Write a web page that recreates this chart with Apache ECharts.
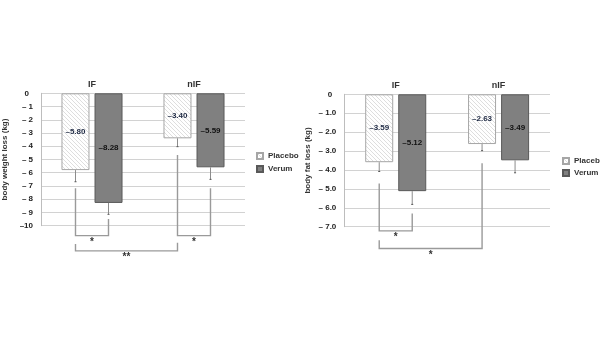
<!DOCTYPE html>
<html><head><meta charset="utf-8">
<script src="https://cdn.jsdelivr.net/npm/echarts@6/dist/echarts.min.js"></script>
<style>html,body{margin:0;padding:0;background:#fff}#c{width:600px;height:338px}</style>
</head><body><div id="c"></div>
<script>
// ---- data ----
const categories = ['IF', 'nIF'];
const seriesNames = ['Placebo', 'Verum'];
// body weight loss (kg)
const weightPlacebo = [-5.80, -3.40];
const weightVerum = [-8.28, -5.59];
const weightPlaceboErrEnd = [-6.68, -4.03];
const weightVerumErrEnd = [-9.14, -6.50];
// body fat loss (kg)
const fatPlacebo = [-3.59, -2.63];
const fatVerum = [-5.12, -3.49];
const fatPlaceboErrEnd = [-4.08, -2.98];
const fatVerumErrEnd = [-5.82, -4.15];
// significance brackets: [categoryIndex, seriesIndex]
const weightBracketFrom = [[0, 0], [1, 0], [0, 0]];
const weightBracketTo = [[0, 1], [1, 1], [1, 0]];
const weightBracketTops = [[-7.17, -9.49], [-4.66, -7.17], [-11.38, -11.28]];
const weightBracketBase = [-10.75, -10.75, -11.9];
const weightBracketMarks = ['*', '*', '**'];
const fatBracketFrom = [[0, 0], [0, 0]];
const fatBracketTo = [[0, 1], [1, 0]];
const fatBracketTops = [[-4.71, -6.30], [-7.71, -3.65]];
const fatBracketBase = [-7.22, -8.15];
const fatBracketMarks = ['*', '*'];

// ---- styles ----
const FONT = '"Liberation Sans", Arial, sans-serif';
const BAR_W = 28;
const BAR_SHIFT = 16.5; // half of bar width + gap
const offsets = [-BAR_SHIFT, BAR_SHIFT];

function hatch() {
  const c = document.createElement('canvas');
  c.width = 4; c.height = 4;
  const g = c.getContext('2d');
  g.fillStyle = '#ffffff'; g.fillRect(0, 0, 4, 4);
  g.strokeStyle = '#d6d6d6'; g.lineWidth = 0.8;
  g.beginPath();
  g.moveTo(-1, -1); g.lineTo(5, 5);
  g.moveTo(-1, 3); g.lineTo(1, 5);
  g.moveTo(3, -1); g.lineTo(5, 1);
  g.stroke();
  return c;
}
const placeboFill = { image: hatch(), repeat: 'repeat' };

const chart = echarts.init(document.getElementById('c'), null, { renderer: 'canvas' });

function fmtLabel(p) { return '\u2013' + Math.abs(p.value).toFixed(2); }

function barSeries(name, data, idx, fill, border, labelColor) {
  return {
    type: 'bar', name: name, xAxisIndex: idx, yAxisIndex: idx, data: data,
    barWidth: BAR_W, barGap: '18%',
    itemStyle: { color: fill, borderColor: border, borderWidth: 1 },
    label: { show: true, position: 'inside', formatter: fmtLabel, fontFamily: FONT,
      fontSize: 8, fontWeight: 'bold', color: labelColor },
    emphasis: { disabled: true }, z: 2
  };
}

function errSeries(vals, ends, idx, sIdx) {
  return {
    type: 'custom', xAxisIndex: idx, yAxisIndex: idx, silent: true, z: 3,
    data: vals.map((v, i) => [i, v, ends[i]]),
    encode: { x: 0, y: [1, 2] },
    renderItem: function (params, api) {
      const a = api.coord([api.value(0), api.value(1)]);
      const b = api.coord([api.value(0), api.value(2)]);
      const x = a[0] + offsets[sIdx];
      return { type: 'group', children: [
        { type: 'line', shape: { x1: x, y1: a[1], x2: x, y2: b[1] }, style: { stroke: '#8c8c8c', lineWidth: 1 } },
        { type: 'line', shape: { x1: x - 1, y1: b[1], x2: x + 1, y2: b[1] }, style: { stroke: '#555', lineWidth: 1 } }
      ] };
    }
  };
}

function bracketSeries(from, to, tops, base, marks, idx) {
  return {
    type: 'custom', xAxisIndex: idx, yAxisIndex: idx, silent: true, z: 4,
    data: base.map((b, i) => [from[i][0], b, i]),
    encode: { x: 0, y: 1 },
    renderItem: function (params, api) {
      const i = params.dataIndex;
      const pA = api.coord([from[i][0], tops[i][0]]);
      const pB = api.coord([to[i][0], tops[i][1]]);
      const yb = api.coord([from[i][0], base[i]])[1];
      const xA = pA[0] + offsets[from[i][1]];
      const xB = pB[0] + offsets[to[i][1]];
      return { type: 'group', children: [
        { type: 'polyline', shape: { points: [[xA, pA[1]], [xA, yb], [xB, yb], [xB, pB[1]]] },
          style: { stroke: '#9a9a9a', lineWidth: 1.4, fill: null } },
        { type: 'text', style: { text: marks[i], x: (xA + xB) / 2, y: yb + 1.5, align: 'center',
          verticalAlign: 'top', fontSize: 10, fontWeight: 'bold', fontFamily: FONT, fill: '#333' } }
      ] };
    }
  };
}

function yAxis(min, interval, fmt, name, gridIdx, gap) {
  return {
    type: 'value', gridIndex: gridIdx, min: min, max: 0, interval: interval,
    name: name, nameLocation: 'middle', nameGap: gap, nameRotate: 90,
    nameTextStyle: { fontFamily: FONT, fontSize: 8, fontWeight: 'bold', color: '#333' },
    axisLine: { show: true, lineStyle: { color: '#bdbdbd' } },
    axisTick: { show: false },
    axisLabel: { formatter: fmt, fontFamily: FONT, fontSize: 8, fontWeight: 'bold', color: '#222', margin: 8,
      rich: { z: { fontFamily: FONT, fontSize: 8, fontWeight: 'bold', color: '#222', padding: [0, 4, 0, 0] } } },
    splitLine: { show: true, lineStyle: { color: '#d2d2d2', width: 1 } }
  };
}

function xAxis(gridIdx) {
  return {
    type: 'category', gridIndex: gridIdx, data: categories, position: 'top',
    axisLine: { show: false }, axisTick: { show: false },
    axisLabel: { fontFamily: FONT, fontSize: 9, fontWeight: 'bold', color: '#333', margin: 4 }
  };
}

const weightFmt = v => v === 0 ? '{z|0}' : '\u2013' + (Math.abs(v) < 10 ? ' ' : '') + Math.abs(v);
const fatFmt = v => v === 0 ? '{z|0}' : '\u2013 ' + Math.abs(v).toFixed(1);

const legendText = { fontFamily: FONT, fontSize: 8, fontWeight: 'bold', color: '#333' };

chart.setOption({
  animation: false,
  backgroundColor: '#fff',
  grid: [
    { left: 37.5, top: 93.3, width: 207.5, height: 132.4 },
    { left: 344.3, top: 94.3, width: 205.7, height: 132.4 }
  ],
  legend: [
    { data: seriesNames, orient: 'vertical', left: 251, top: 147, itemWidth: 6, itemHeight: 6, itemGap: 5,
      icon: 'rect', textStyle: legendText, selectedMode: false },
    { data: seriesNames, orient: 'vertical', left: 557, top: 152, itemWidth: 6, itemHeight: 6, itemGap: 4,
      icon: 'rect', textStyle: legendText, selectedMode: false }
  ],
  xAxis: [xAxis(0), xAxis(1)],
  yAxis: [
    yAxis(-10, 1, weightFmt, 'body weight loss (kg)', 0, 32),
    yAxis(-7, 1, fatFmt, 'body fat loss (kg)', 1, 33)
  ],
  series: [
    barSeries('Placebo', weightPlacebo, 0, placeboFill, '#a6a6a6', '#1f2a44'),
    barSeries('Verum', weightVerum, 0, '#808080', '#595959', '#111'),
    barSeries('Placebo', fatPlacebo, 1, placeboFill, '#a6a6a6', '#1f2a44'),
    barSeries('Verum', fatVerum, 1, '#808080', '#595959', '#111'),
    errSeries(weightPlacebo, weightPlaceboErrEnd, 0, 0),
    errSeries(weightVerum, weightVerumErrEnd, 0, 1),
    errSeries(fatPlacebo, fatPlaceboErrEnd, 1, 0),
    errSeries(fatVerum, fatVerumErrEnd, 1, 1),
    bracketSeries(weightBracketFrom, weightBracketTo, weightBracketTops, weightBracketBase, weightBracketMarks, 0),
    bracketSeries(fatBracketFrom, fatBracketTo, fatBracketTops, fatBracketBase, fatBracketMarks, 1)
  ]
});
</script></body></html>
